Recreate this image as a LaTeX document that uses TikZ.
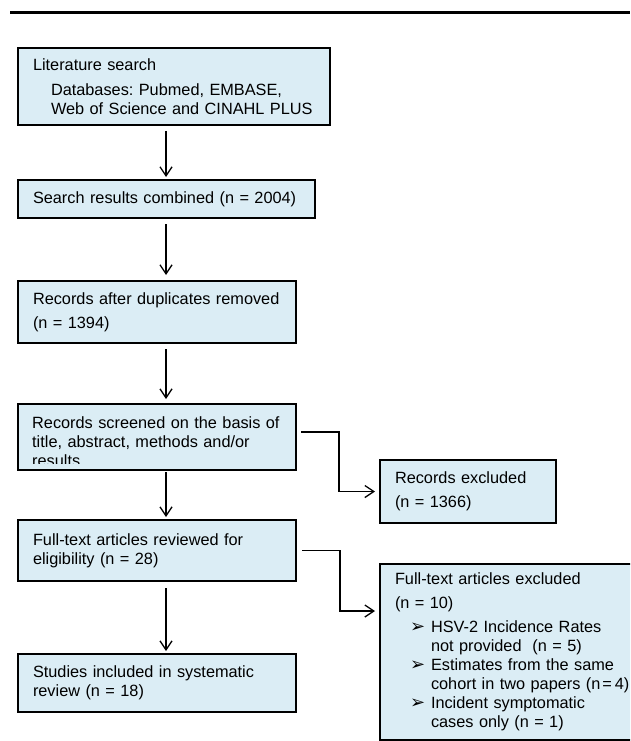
\documentclass[tikz,border=0pt]{standalone}
\usepackage{fontspec}
\setmainfont{Liberation Sans}
\newfontfamily\dejavu{DejaVu Sans}
\usetikzlibrary{arrows.meta,calc}
\definecolor{boxfill}{RGB}{219,237,245}
\newcommand{\bulletarrow}{{\dejavu\fontsize{18}{18}\selectfont ➢}}
\frenchspacing
\begin{document}
\begin{tikzpicture}[x=1pt,y=-1pt,
  flowbox/.style={draw=black, line width=2pt, fill=boxfill, anchor=north west,
    inner ysep=0pt, inner xsep=15pt, align=left, font=\fontsize{16.3}{19}\selectfont},
  conn/.style={line width=1.3pt, -{Straight Barb[length=9pt,width=12pt]}},
  ]
\clip (0,0) rectangle (630,741);
\fill[white] (0,0) rectangle (630,741);
\draw[line width=3pt] (10,13) -- (630,13);

\node[flowbox, minimum width=312pt, minimum height=77pt, text width=282pt] (box1) at (17,47)
  {Literature search\\[6pt]\hspace*{18pt}Databases: Pubmed, EMBASE,\\\hspace*{18pt}Web of Science and CINAHL PLUS};
\node[flowbox, minimum width=297pt, minimum height=38pt, text width=267pt] (box2) at (17,179)
  {Search results combined (n = 2004)};
\node[flowbox, minimum width=278pt, minimum height=62pt, text width=248pt] (box3) at (17,280)
  {Records after duplicates removed\\[5pt](n = 1394)};
\node[flowbox, minimum width=278pt, minimum height=66pt, text width=248pt] (box4) at (17,403) {};
\begin{scope}
  \clip (17,403) rectangle (300,463);
  \node[anchor=base west, inner sep=0pt, text width=248pt, align=left, font=\fontsize{16.3}{19}\selectfont] (box4txt) at (32,428)
    {Records screened on the basis of\\title, abstract, methods and/or\\results};
\end{scope}
\node[flowbox, minimum width=278pt, minimum height=61pt, text width=248pt] (box5) at (17,519)
  {Full-text articles reviewed for\\eligibility (n = 28)};
\node[flowbox, minimum width=278pt, minimum height=58pt, text width=248pt] (box6) at (17,653)
  {Studies included in systematic\\review (n = 18)};
\node[flowbox, minimum width=176pt, minimum height=63pt, text width=146pt] (excl1) at (379,459)
  {Records excluded\\[5pt](n = 1366)};
\node[flowbox, minimum width=285pt, minimum height=176pt, text width=255pt] (excl2) at (379,563)
  {Full-text articles excluded\\[5pt](n = 10)\\[5pt]
   \hspace*{15pt}\makebox[21pt][l]{\bulletarrow}HSV-2 Incidence Rates\\
   \hspace*{36pt}not provided\ \ (n = 5)\\
   \hspace*{15pt}\makebox[21pt][l]{\bulletarrow}Estimates from the same\\
   \hspace*{36pt}cohort in two papers (n\hspace{2pt}=\hspace{3pt}4)\\
   \hspace*{15pt}\makebox[21pt][l]{\bulletarrow}Incident symptomatic\\
   \hspace*{36pt}cases only (n = 1)};

\coordinate (ax) at (166,0);
\draw[conn, shorten <=5pt, shorten >=2pt] (box1.south -| ax) -- (box2.north -| ax);
\draw[conn, shorten <=5pt, shorten >=5pt] (box2.south -| ax) -- (box3.north -| ax);
\draw[conn, shorten <=5pt, shorten >=4pt] (box3.south -| ax) -- (box4.north -| ax);
\draw[conn, shorten <=1pt, shorten >=2pt] (box4.south -| ax) -- (box5.north -| ax);
\draw[conn, shorten <=6pt, shorten >=2pt] (box5.south -| ax) -- (box6.north -| ax);

\draw[conn, shorten >=4pt] ([xshift=4pt,yshift=5pt]box4.east) -- ++(38,0) |- (excl1.west);
\draw[conn, shorten >=4pt] ([xshift=5pt]box5.east) -- ++(38,0) |- ([yshift=41pt]excl2.west);
\end{tikzpicture}
\end{document}
